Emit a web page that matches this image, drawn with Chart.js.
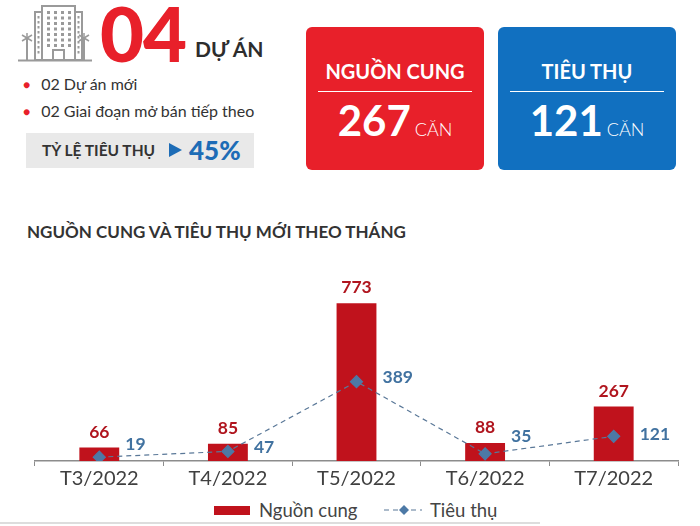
<!DOCTYPE html>
<html lang="vi">
<head>
<meta charset="utf-8">
<title>Nguồn cung và tiêu thụ mới theo tháng</title>
<script src="https://cdn.jsdelivr.net/npm/chart.js@4.4.1/dist/chart.umd.min.js"></script>
<style>
  html, body { margin: 0; padding: 0; background: #fff; }
  body { width: 700px; height: 526px; position: relative; overflow: hidden; font-family: Lato, "Open Sans", sans-serif; color: #333; }
  .abs { position: absolute; }
  #icon { left: 18px; top: 2px; }
  #big { left: 100px; top: -13px; font-size: 76px; font-weight: 900; color: #e8202a; letter-spacing: -1px; }
  #duan { left: 195px; top: 36px; font-size: 21px; font-weight: 700; color: #2d2d2d; }
  .bullet { left: 23px; font-size: 16px; color: #333; }
  .bullet span { color: #e8202a; font-size: 12px; margin-right: 11px; position: relative; top: -1px; }
  #rate { left: 26px; top: 133px; width: 228px; height: 35px; background: #e9e9e9; }
  #rate .lbl { position: absolute; left: 16px; top: 8px; font-size: 15.5px; font-weight: 700; color: #333; }
  #rate .tri { position: absolute; left: 143px; top: 10px; width: 0; height: 0; border-top: 7px solid transparent; border-bottom: 7px solid transparent; border-left: 13px solid #1d6cb6; }
  #rate .pct { position: absolute; left: 163px; top: 1px; font-size: 26px; font-weight: 900; color: #1d6cb6; }
  .card { top: 27px; width: 178px; height: 143px; border-radius: 6px; color: #fff; text-align: center; }
  .card .h { position: absolute; left: 0; right: 0; top: 32px; font-size: 20px; font-weight: 700; }
  .card .rule { position: absolute; left: 12px; right: 12px; top: 64px; border-top: 1px solid #fff; }
  .card .v { position: absolute; left: 0; right: 0; top: 68px; font-size: 42px; font-weight: 700; }
  .card .v small { font-size: 18px; font-weight: 300; margin-left: 4px; }
  #c1 { left: 306px; background: #e8202a; }
  #c2 { left: 498px; background: #1170c0; }
  #title { left: 27px; top: 221px; font-size: 17px; font-weight: 700; color: #333; }
  #chartBox { left: 0; top: 257px; width: 700px; height: 235px; }
  #legend { left: 0; top: 499px; width: 700px; height: 24px; font-size: 18.5px; color: #444; }
  #legend .item { position: absolute; top: 0; }
  #bottomRule { left: 0; top: 522px; width: 540px; border-top: 2px solid #ddd; }
</style>
</head>
<body>

<svg id="icon" class="abs" width="74" height="62" viewBox="0 0 74 62">
  <g fill="none" stroke="#9a9a9a" stroke-width="2">
    <rect x="24" y="4" width="33" height="54"/>
    <rect x="17" y="10" width="7" height="48"/>
    <rect x="57" y="10" width="7" height="48"/>
    <rect x="35" y="48" width="11" height="10"/>
    <line x1="0" y1="58.5" x2="74" y2="58.5"/>
    <line x1="9" y1="36" x2="9" y2="58"/>
    <line x1="66" y1="36" x2="66" y2="58"/>
  </g>
  <g stroke="#9a9a9a" stroke-width="1.5">
    <line x1="4" y1="33" x2="14" y2="39"/><line x1="14" y1="33" x2="4" y2="39"/><line x1="9" y1="31" x2="9" y2="40"/>
    <line x1="61" y1="33" x2="71" y2="39"/><line x1="71" y1="33" x2="61" y2="39"/><line x1="66" y1="31" x2="66" y2="40"/>
  </g>
  <g fill="#9a9a9a" id="win"></g>
</svg>

<div id="big" class="abs">04</div>
<div id="duan" class="abs">DỰ ÁN</div>
<div class="abs bullet" style="top:74px"><span>●</span>02 Dự án mới</div>
<div class="abs bullet" style="top:101px"><span>●</span>02 Giai đoạn mở bán tiếp theo</div>
<div id="rate" class="abs"><div class="lbl">TỶ LỆ TIÊU THỤ</div><div class="tri"></div><div class="pct">45%</div></div>

<div id="c1" class="abs card"><div class="h">NGUỒN CUNG</div><div class="rule"></div><div class="v">267<small>CĂN</small></div></div>
<div id="c2" class="abs card"><div class="h">TIÊU THỤ</div><div class="rule"></div><div class="v">121<small>CĂN</small></div></div>

<div id="title" class="abs">NGUỒN CUNG VÀ TIÊU THỤ MỚI THEO THÁNG</div>

<div id="chartBox" class="abs"><canvas id="chart"></canvas></div>

<div id="legend" class="abs">
  <div class="item" style="left:214px"><span style="display:inline-block;width:36px;height:9px;background:#c0121c;vertical-align:middle;margin-right:9px;position:relative;top:-2px"></span>Nguồn cung</div>
  <div class="item" style="left:384px">
    <svg width="38" height="14" style="vertical-align:middle;margin-right:8px;position:relative;top:-2px">
      <line x1="0" y1="7" x2="38" y2="7" stroke="#5a7898" stroke-width="1.2" stroke-dasharray="5,4"/>
      <polygon points="20,2 25,7 20,12 15,7" fill="#4d79a6"/>
    </svg>Tiêu thụ</div>
</div>
<div id="bottomRule" class="abs"></div>

<script>
// windows on the building icon
(function () {
  const g = document.getElementById('win');
  let s = '';
  for (let r = 0; r < 7; r++) {
    for (let c = 0; c < 4; c++) {
      s += '<rect x="' + (29 + c * 7) + '" y="' + (9 + r * 5.5) + '" width="3" height="3"/>';
    }
  }
  for (let r = 0; r < 8; r++) {
    s += '<rect x="19.5" y="' + (14 + r * 5) + '" width="2" height="2.5"/>';
    s += '<rect x="59.5" y="' + (14 + r * 5) + '" width="2" height="2.5"/>';
  }
  g.innerHTML = s;
})();

// === data ===
const months = ['T3/2022', 'T4/2022', 'T5/2022', 'T6/2022', 'T7/2022'];
const supply = [66, 85, 773, 88, 267];        // Nguồn cung
const consumption = [19, 47, 389, 35, 121];   // Tiêu thụ

const COLORS = {
    bar: '#c0121c',
    barLabel: '#b0151e',
    line: '#5a7898',
    point: '#4d79a6',
    lineLabel: '#4172a0',
    axis: '#8c8c8c',
    tick: '#404040'
};

// vertical nudge for the consumption labels (px), as placed in the original
const consumptionLabelNudge = [-13, -4, -4, -18, -2];

const valueLabels = {
    id: 'valueLabels',
    afterDatasetsDraw(chart) {
        const ctx = chart.ctx;
        ctx.save();
        ctx.font = 'bold 17.5px Lato';

        // dataset 0: bars (Nguồn cung)
        ctx.fillStyle = COLORS.barLabel;
        ctx.textAlign = 'center';
        ctx.textBaseline = 'alphabetic';
        chart.getDatasetMeta(0).data.forEach((bar, i) => {
            ctx.fillText(supply[i], bar.x, bar.y - 10);
        });

        // dataset 1: line (Tiêu thụ)
        ctx.fillStyle = COLORS.lineLabel;
        ctx.textAlign = 'left';
        ctx.textBaseline = 'middle';
        chart.getDatasetMeta(1).data.forEach((pt, i) => {
            ctx.fillText(consumption[i], pt.x + 26, pt.y + consumptionLabelNudge[i]);
        });
        ctx.restore();
    }
};

Chart.defaults.font.family = 'Lato';

new Chart(document.getElementById('chart'), {
    data: {
        labels: months,
        datasets: [
            {
                type: 'bar',
                label: 'Nguồn cung',
                data: supply,
                backgroundColor: COLORS.bar,
                borderWidth: 0,
                categoryPercentage: 1,
                barPercentage: 0.31,
                order: 1
            },
            {
                type: 'line',
                label: 'Tiêu thụ',
                data: consumption,
                borderColor: COLORS.line,
                borderWidth: 1.2,
                borderDash: [5, 4],
                pointStyle: 'rectRot',
                pointRadius: 6,
                pointBackgroundColor: COLORS.point,
                pointBorderColor: COLORS.point,
                tension: 0,
                order: 0
            }
        ]
    },
    options: {
        responsive: true,
        maintainAspectRatio: false,
        animation: false,
        layout: { padding: { left: 35, right: 22, top: 0, bottom: 0 } },
        plugins: {
            legend: { display: false },
            tooltip: { enabled: false }
        },
        scales: {
            x: {
                offset: true,
                grid: {
                    offset: true,
                    drawOnChartArea: false,
                    drawTicks: true,
                    tickLength: 5,
                    color: COLORS.axis
                },
                border: { display: true, color: COLORS.axis, width: 1.5 },
                ticks: { color: COLORS.tick, font: { size: 20 }, padding: 1 }
            },
            y: {
                display: false,
                min: 0,
                max: 965
            }
        }
    },
    plugins: [valueLabels]
});
</script>
</body>
</html>
